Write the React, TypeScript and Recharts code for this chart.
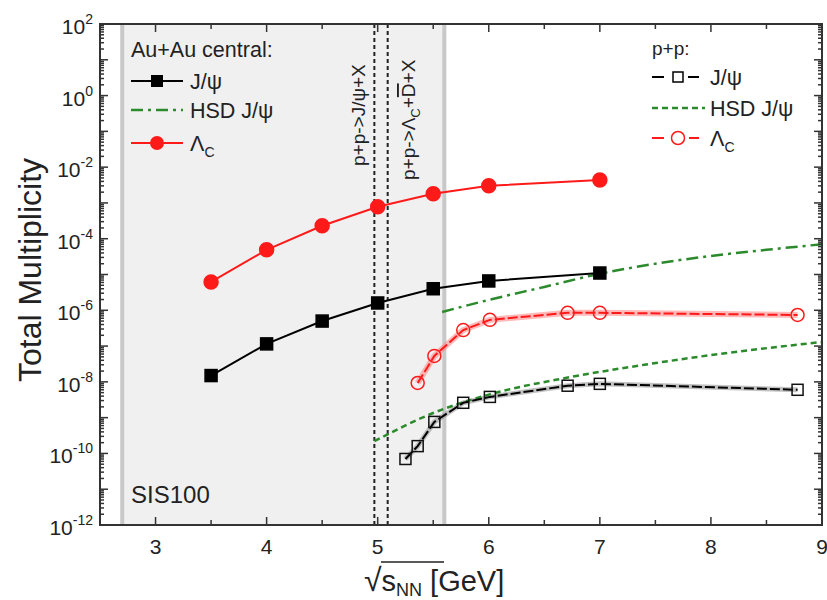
import React from "react";
import { LineChart, Line, XAxis, YAxis, ReferenceArea, ReferenceLine } from "recharts";

// sqrt(s_NN) [GeV] vs total multiplicity (log)
const auauJpsi = [
  { x: 3.5, y: 1.5e-8 }, { x: 4, y: 1.15e-7 }, { x: 4.5, y: 5e-7 }, { x: 5, y: 1.6e-6 },
  { x: 5.5, y: 4e-6 }, { x: 6, y: 6.6e-6 }, { x: 7, y: 1.1e-5 },
];
const auauLc = [
  { x: 3.5, y: 6.2e-6 }, { x: 4, y: 4.9e-5 }, { x: 4.5, y: 2.3e-4 }, { x: 5, y: 7.8e-4 },
  { x: 5.5, y: 1.8e-3 }, { x: 6, y: 3e-3 }, { x: 7, y: 4.4e-3 },
];
const auauHsd = [
  { x: 5.58, y: 9e-7 }, { x: 6, y: 1.95e-6 }, { x: 6.5, y: 4.5e-6 }, { x: 7, y: 1.05e-5 },
  { x: 7.5, y: 2e-5 }, { x: 8, y: 3.3e-5 }, { x: 8.5, y: 4.9e-5 }, { x: 9, y: 7e-5 },
];
const ppJpsi = [
  { x: 5.25, y: 7e-11 }, { x: 5.36, y: 1.6e-10 }, { x: 5.51, y: 7.6e-10 }, { x: 5.77, y: 2.6e-9 },
  { x: 6.01, y: 3.8e-9 }, { x: 6.71, y: 7.8e-9 }, { x: 7, y: 8.8e-9 }, { x: 8.78, y: 6e-9 },
];
const ppLc = [
  { x: 5.36, y: 9.3e-9 }, { x: 5.51, y: 5.3e-8 }, { x: 5.77, y: 2.8e-7 }, { x: 6.01, y: 5.4e-7 },
  { x: 6.71, y: 8.5e-7 }, { x: 7, y: 8.5e-7 }, { x: 8.78, y: 7.4e-7 },
];
const ppHsd = [
  { x: 4.97, y: 2.2e-10 }, { x: 5.5, y: 1.35e-9 }, { x: 6, y: 4.4e-9 }, { x: 6.7, y: 1.3e-8 },
  { x: 7.4, y: 3e-8 }, { x: 8, y: 5.6e-8 }, { x: 9, y: 1.3e-7 },
];

const xTicks = [2.5, 3, 3.5, 4, 4.5, 5, 5.5, 6, 6.5, 7, 7.5, 8, 8.5, 9];
const decades = [-12, -11, -10, -9, -8, -7, -6, -5, -4, -3, -2, -1, 0, 1, 2];
const yTicks: number[] = [];
decades.forEach((d) => {
  yTicks.push(Math.pow(10, d));
  if (d < 2) for (let m = 2; m <= 9; m++) yTicks.push(m * Math.pow(10, d));
});

const sis100 = [2.7, 5.6];
const thresholds = [4.97, 5.09]; // J/psi and Lambda_c + Dbar production thresholds

const W = 827, H = 600;
const L = 100, R = 822, T = 24, B = 525;
const FONT = "Liberation Sans, Arial, sans-serif";
const RED = "#ff1a1a";
const GREEN = "#2b8a2b";
const AX = "#333";

const YTick = (props: any) => {
  const { y, payload } = props;
  const v = payload.value;
  const lg = Math.log10(v);
  const e = Math.round(lg);
  const dec = Math.abs(lg - e) < 1e-6;
  const len = dec ? 8 : 4;
  return (
    <g>
      <line x1={L} x2={L + len} y1={y} y2={y} stroke={AX} strokeWidth={1.5} />
      <line x1={R} x2={R - len} y1={y} y2={y} stroke={AX} strokeWidth={1.5} />
      {dec && e % 2 === 0 && (
        <text x={93} y={y + 10} textAnchor="end" fontSize={21} fill="#222" fontFamily={FONT}>
          10<tspan dy={-10} fontSize={14}>{e}</tspan>
        </text>
      )}
    </g>
  );
};

const XTick = (props: any) => {
  const { x, payload } = props;
  const v = payload.value;
  const major = Number.isInteger(v);
  const len = major ? 8 : 5;
  return (
    <g>
      <line x1={x} x2={x} y1={B} y2={B - len} stroke={AX} strokeWidth={1.5} />
      <line x1={x} x2={x} y1={T} y2={T + len} stroke={AX} strokeWidth={1.5} />
      {major && (
        <text x={x} y={554} textAnchor="middle" fontSize={21} fill="#222" fontFamily={FONT}>{v}</text>
      )}
    </g>
  );
};

const square = (fill: string, stroke: string, size: number) => (p: any) => {
  if (p.cx == null || p.cy == null) return <g key={p.index} />;
  return (
    <rect key={p.index} x={p.cx - size / 2} y={p.cy - size / 2} width={size} height={size}
      fill={fill} stroke={stroke} strokeWidth={1.5} />
  );
};
const circle = (fill: string, stroke: string, r: number) => (p: any) => {
  if (p.cx == null || p.cy == null) return <g key={p.index} />;
  return <circle key={p.index} cx={p.cx} cy={p.cy} r={r} fill={fill} stroke={stroke} strokeWidth={1.5} />;
};

function Overlay() {
  const t = { fontFamily: FONT, fill: "#222" };
  return (
    <svg width={W} height={H} style={{ position: "absolute", left: 0, top: 0, pointerEvents: "none" }}>
      <rect x={L} y={T} width={R - L} height={B - T} fill="none" stroke={AX} strokeWidth={2} />

      {/* Au+Au legend */}
      <text x={131} y={57} fontSize={21.5} {...t}>Au+Au central:</text>
      <line x1={131} x2={183} y1={81} y2={81} stroke="#000" strokeWidth={2} />
      <rect x={151} y={75} width={12} height={12} fill="#000" />
      <text x={190} y={89} fontSize={21.5} {...t}>J/ψ</text>
      <line x1={131} x2={183} y1={110} y2={110} stroke={GREEN} strokeWidth={2.5} strokeDasharray="12 5 3 5" />
      <text x={190} y={118} fontSize={21.5} {...t}>HSD J/ψ</text>
      <line x1={131} x2={183} y1={143} y2={143} stroke={RED} strokeWidth={2} />
      <circle cx={157} cy={143} r={7} fill={RED} />
      <text x={190} y={151} fontSize={21.5} {...t}>Λ<tspan dy={6} fontSize={14}>C</tspan></text>

      {/* p+p legend */}
      <text x={652} y={55} fontSize={19} {...t}>p+p:</text>
      <line x1={652} x2={664} y1={77} y2={77} stroke="#000" strokeWidth={2} />
      <line x1={688} x2={699} y1={77} y2={77} stroke="#000" strokeWidth={2} />
      <rect x={673} y={72} width={10} height={10} fill="#fff" stroke="#000" strokeWidth={1.5} />
      <text x={710} y={85} fontSize={21.5} {...t}>J/ψ</text>
      <line x1={652} x2={705} y1={108} y2={108} stroke={GREEN} strokeWidth={2.5} strokeDasharray="6 4" />
      <text x={710} y={116} fontSize={21.5} {...t}>HSD J/ψ</text>
      <line x1={652} x2={664} y1={138} y2={138} stroke={RED} strokeWidth={2} />
      <line x1={689} x2={699} y1={138} y2={138} stroke={RED} strokeWidth={2} />
      <circle cx={678} cy={138} r={6.5} fill="#fff" stroke={RED} strokeWidth={1.5} />
      <text x={710} y={146} fontSize={21.5} {...t}>Λ<tspan dy={6} fontSize={14}>C</tspan></text>

      {/* threshold labels */}
      <text transform="translate(365,166) rotate(-90)" fontSize={19} {...t}>p+p-&gt;J/ψ+X</text>
      <text transform="translate(415,180) rotate(-90)" fontSize={19} {...t}>
        p+p-&gt;Λ<tspan dy={5} fontSize={13}>C</tspan><tspan dy={-5}>+</tspan>
        <tspan style={{ textDecoration: "overline" }}>D</tspan>+X
      </text>

      <text x={131} y={503} fontSize={24} {...t}>SIS100</text>

      {/* axis titles */}
      <text transform="translate(41,270) rotate(-90)" textAnchor="middle" fontSize={32} {...t}>Total Multiplicity</text>
      <text x={364} y={591} fontSize={29} {...t}>
        <tspan fontSize={32}>√</tspan>s<tspan dy={5} fontSize={18}>NN</tspan><tspan dy={-5}> [GeV]</tspan>
      </text>
      <line x1={381} x2={444} y1={562} y2={562} stroke="#222" strokeWidth={1.5} />
    </svg>
  );
}

export default function App() {
  return (
    <div style={{ position: "absolute", left: 0, top: 0, width: W, height: H, background: "#fff" }}>
      <LineChart width={W} height={H} margin={{ top: T, right: W - R, bottom: 35, left: 0 }}>
        <XAxis type="number" dataKey="x" domain={[2.5, 9]} ticks={xTicks} interval={0}
          allowDataOverflow axisLine={false} tickLine={false} tick={<XTick />} height={40} />
        <YAxis type="number" dataKey="y" scale="log" domain={[1e-12, 1e2]} ticks={yTicks} interval={0}
          allowDataOverflow axisLine={false} tickLine={false} tick={<YTick />} width={L} />

        <ReferenceArea x1={sis100[0]} x2={sis100[1]} y1={1e-12} y2={1e2} fill="#f0f0f0" fillOpacity={1} stroke="none" />
        {sis100.map((v) => (
          <ReferenceLine key={v} x={v} stroke="#c8c8c8" strokeWidth={4} />
        ))}
        {thresholds.map((v) => (
          <ReferenceLine key={v} x={v} stroke="#222" strokeWidth={2} strokeDasharray="4 3" />
        ))}

        {/* uncertainty bands */}
        <Line data={ppLc} dataKey="y" type="linear" stroke="#ff8a8a" strokeOpacity={0.6} strokeWidth={6}
          dot={false} isAnimationActive={false} />
        <Line data={ppJpsi} dataKey="y" type="linear" stroke="#999" strokeOpacity={0.6} strokeWidth={5}
          dot={false} isAnimationActive={false} />

        <Line data={auauHsd} dataKey="y" type="monotone" stroke={GREEN} strokeWidth={2.5}
          strokeDasharray="12 5 3 5" dot={false} isAnimationActive={false} />
        <Line data={ppHsd} dataKey="y" type="monotone" stroke={GREEN} strokeWidth={2.5}
          strokeDasharray="6 4" dot={false} isAnimationActive={false} />

        <Line data={auauJpsi} dataKey="y" type="linear" stroke="#000" strokeWidth={2}
          dot={square("#000", "#000", 12)} isAnimationActive={false} />
        <Line data={auauLc} dataKey="y" type="linear" stroke={RED} strokeWidth={2}
          dot={circle(RED, RED, 7)} isAnimationActive={false} />
        <Line data={ppJpsi} dataKey="y" type="linear" stroke="#000" strokeWidth={2}
          strokeDasharray="10 3" dot={square("none", "#111", 11)} isAnimationActive={false} />
        <Line data={ppLc} dataKey="y" type="linear" stroke={RED} strokeWidth={2}
          strokeDasharray="10 3" dot={circle("none", RED, 6.5)} isAnimationActive={false} />
      </LineChart>
      <Overlay />
    </div>
  );
}
